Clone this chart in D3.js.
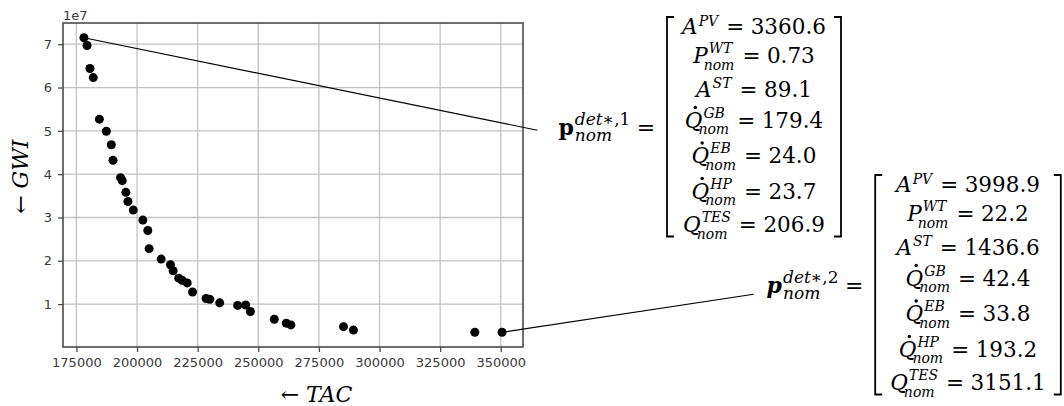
<!DOCTYPE html>
<html>
<head>
<meta charset="utf-8">
<script src="https://cdn.jsdelivr.net/npm/d3@7"></script>
<style>
  html, body { margin: 0; padding: 0; background: #fff; }
  svg { display: block; }
  .tick text { font-family: 'DejaVu Sans', sans-serif; font-size: 13px; fill: #3a3a3a; }
  .mi { font-family: 'DejaVu Serif', serif; font-style: italic; font-size: 21.5px; }
  .mn { font-family: 'DejaVu Serif', serif; font-size: 21.5px; }
  .ms { font-family: 'DejaVu Serif', serif; font-style: italic; font-size: 14px; }
  .ls { font-family: 'DejaVu Serif', serif; font-style: italic; font-size: 17px; }
</style>
</head>
<body>
<div id="chart"></div>
<script>
// Pareto front: total annual cost vs global warming impact
const tac = [178100, 179400, 180600, 181950, 184470, 187350, 189400, 190100, 193200, 193900,
  195400, 196250, 198450, 202400, 204450, 205000, 209950, 213800, 214900, 217200,
  218600, 220700, 222900, 228500, 230000, 234100, 241500, 244800, 246750, 256600,
  261550, 263450, 285150, 289250, 339300, 350550];
const gwi = [7.15e7, 6.97e7, 6.44e7, 6.23e7, 5.27e7, 4.99e7, 4.68e7, 4.32e7, 3.92e7, 3.85e7,
  3.58e7, 3.37e7, 3.17e7, 2.94e7, 2.70e7, 2.28e7, 2.04e7, 1.91e7, 1.77e7, 1.60e7,
  1.55e7, 1.49e7, 1.28e7, 1.13e7, 1.11e7, 1.03e7, 0.97e7, 0.98e7, 0.83e7, 0.65e7,
  0.56e7, 0.52e7, 0.48e7, 0.40e7, 0.35e7, 0.35e7];

const xTicks = [175000, 200000, 225000, 250000, 275000, 300000, 325000, 350000];
const yTicks = [1e7, 2e7, 3e7, 4e7, 5e7, 6e7, 7e7];

// design vector entries
const paramBase = ['A', 'P', 'A', 'Q', 'Q', 'Q', 'Q'];
const paramSup = ['PV', 'WT', 'ST', 'GB', 'EB', 'HP', 'TES'];
const paramSub = ['', 'nom', '', 'nom', 'nom', 'nom', 'nom'];
const paramDot = [false, false, false, true, true, true, false];
const design1 = ['3360.6', '0.73', '89.1', '179.4', '24.0', '23.7', '206.9'];
const design2 = ['3998.9', '22.2', '1436.6', '42.4', '33.8', '193.2', '3151.1'];

const width = 1064, height = 406;
const margin = { top: 23, right: 541, bottom: 59, left: 63 };
const w = width - margin.left - margin.right;
const h = height - margin.top - margin.bottom;

const svg = d3.select('#chart').append('svg')
  .attr('width', width)
  .attr('height', height);

const g = svg.append('g').attr('transform', `translate(${margin.left},${margin.top})`);

// matplotlib style 5% padding
const pad = (ext) => { const d = (ext[1] - ext[0]) * 0.05; return [ext[0] - d, ext[1] + d]; };
const x = d3.scaleLinear().domain(pad(d3.extent(tac))).range([0, w]);
const y = d3.scaleLinear().domain(pad(d3.extent(gwi))).range([h, 0]);

// grid
g.append('g').selectAll('line').data(xTicks).enter().append('line')
  .attr('x1', d => x(d)).attr('x2', d => x(d)).attr('y1', 0).attr('y2', h)
  .attr('stroke', '#c2c2c2').attr('stroke-width', 1.3);
g.append('g').selectAll('line').data(yTicks).enter().append('line')
  .attr('y1', d => y(d)).attr('y2', d => y(d)).attr('x1', 0).attr('x2', w)
  .attr('stroke', '#c2c2c2').attr('stroke-width', 1.3);

// axes
const xAxis = g.append('g')
  .attr('transform', `translate(0,${h})`)
  .call(d3.axisBottom(x).tickValues(xTicks).tickSize(5).tickPadding(6).tickFormat(d3.format('d')));
const yAxis = g.append('g')
  .call(d3.axisLeft(y).tickValues(yTicks).tickSize(5).tickPadding(6).tickFormat(d => d / 1e7));
[xAxis, yAxis].forEach(a => {
  a.select('.domain').remove();
  a.selectAll('.tick line').attr('stroke', '#4a4a4a').attr('stroke-width', 1.3);
});

// spines
g.append('rect')
  .attr('width', w).attr('height', h)
  .attr('fill', 'none').attr('stroke', '#4a4a4a').attr('stroke-width', 1.6);

// offset text
svg.append('text')
  .attr('x', margin.left).attr('y', 20)
  .style('font-family', 'DejaVu Sans').style('font-size', '13px').style('fill', '#3a3a3a')
  .text('1e7');

// axis labels
const xl = svg.append('text')
  .attr('x', 316.5).attr('y', 402)
  .attr('text-anchor', 'middle')
  .style('font-family', 'DejaVu Serif').style('font-size', '22px');
xl.append('tspan').text('\u2190 ');
xl.append('tspan').style('font-style', 'italic').text('TAC');

const yl = svg.append('text')
  .attr('transform', 'translate(28,176.7) rotate(-90)')
  .attr('text-anchor', 'middle')
  .style('font-family', 'DejaVu Serif').style('font-size', '22px');
yl.append('tspan').text('\u2190 ');
yl.append('tspan').style('font-style', 'italic').text('GWI');

// points
g.selectAll('circle.pt').data(tac).enter().append('circle')
  .attr('class', 'pt')
  .attr('cx', d => x(d))
  .attr('cy', (d, i) => y(gwi[i]))
  .attr('r', 4.5)
  .attr('fill', '#000');

// ---- annotations ----
const tw = sel => sel.node().getComputedTextLength();

function drawRow(parent, i, value, cx, baseline) {
  const row = parent.append('g');
  const base = row.append('text').attr('class', 'mi').text(paramBase[i]);
  const wB = tw(base);
  const hasSub = paramSub[i] !== '';
  const sup = row.append('text').attr('class', 'ms')
    .attr('x', wB + 1).attr('y', hasSub ? -10 : -8.5).text(paramSup[i]);
  let right = wB + 1 + tw(sup);
  if (hasSub) {
    const sub = row.append('text').attr('class', 'ms')
      .attr('x', wB - 4).attr('y', 6.5).text(paramSub[i]);
    right = Math.max(right, wB - 4 + tw(sub));
  }
  if (paramDot[i]) {
    row.append('circle').attr('cx', wB * 0.6).attr('cy', -20).attr('r', 1.7).attr('fill', '#000');
  }
  const eq = row.append('text').attr('class', 'mn').attr('x', right + 8).text('=');
  const val = row.append('text').attr('class', 'mn').attr('x', right + 8 + tw(eq) + 6.5).text(value);
  const total = right + 8 + tw(eq) + 6.5 + tw(val);
  row.attr('transform', `translate(${cx - total / 2},${baseline})`);
}

function drawAnnotation(opts) {
  const a = svg.append('g');
  let baseline = opts.top + 17;
  let last = baseline;
  opts.values.forEach((v, i) => {
    if (i > 0) baseline += 29 + (paramSub[i - 1] ? 4.5 : 0) + (paramDot[i] ? 2 : 0);
    drawRow(a, i, v, opts.cx, baseline);
    last = baseline;
  });
  const top = opts.top, bottom = last + 4.5;
  const L = opts.cx - opts.halfW, R = opts.cx + opts.halfW;
  a.append('path')
    .attr('d', `M${L + 7},${top}H${L}V${bottom}H${L + 7}M${R - 7},${top}H${R}V${bottom}H${R - 7}`)
    .attr('fill', 'none').attr('stroke', '#000').attr('stroke-width', 1.8);

  // label p_nom^{det*,k} =
  const lab = a.append('g');
  const p = lab.append('text').attr('class', 'mn')
    .style('font-size', '22px').style('font-weight', 'bold')
    .style('font-style', opts.italic ? 'italic' : 'normal').text('p');
  const wP = tw(p);
  const sup = lab.append('text').attr('class', 'ls').attr('x', wP + 1).attr('y', -10);
  sup.append('tspan').text('det');
  sup.append('tspan').style('font-style', 'normal').text('\u2217,' + opts.k);
  const sub = lab.append('text').attr('class', 'ls').attr('x', wP + 1).attr('y', 6).text('nom');
  const sr = wP + 1 + Math.max(tw(sup), tw(sub));
  const eq = lab.append('text').attr('class', 'mn').style('font-size', '22px').attr('x', sr + 6.5).text('=');
  const lw = sr + 6.5 + tw(eq);
  const cy = (top + bottom) / 2;
  const lx = L - 11.7 - lw;
  lab.attr('transform', `translate(${lx},${cy + 8})`);

  // leader line from the chosen design point
  const i = opts.point;
  a.append('line')
    .attr('x1', margin.left + x(tac[i])).attr('y1', margin.top + y(gwi[i]))
    .attr('x2', lx + opts.lineEnd[0]).attr('y2', cy + opts.lineEnd[1])
    .attr('stroke', '#000').attr('stroke-width', 1.2);
}

drawAnnotation({ values: design1, k: 1, italic: false, cx: 754, top: 17, halfW: 87,
  point: 0, lineEnd: [-21, 3.5] });
drawAnnotation({ values: design2, k: 2, italic: true, cx: 968, top: 175, halfW: 92.8,
  point: tac.length - 1, lineEnd: [-13, 9.5] });
</script>
</body>
</html>
